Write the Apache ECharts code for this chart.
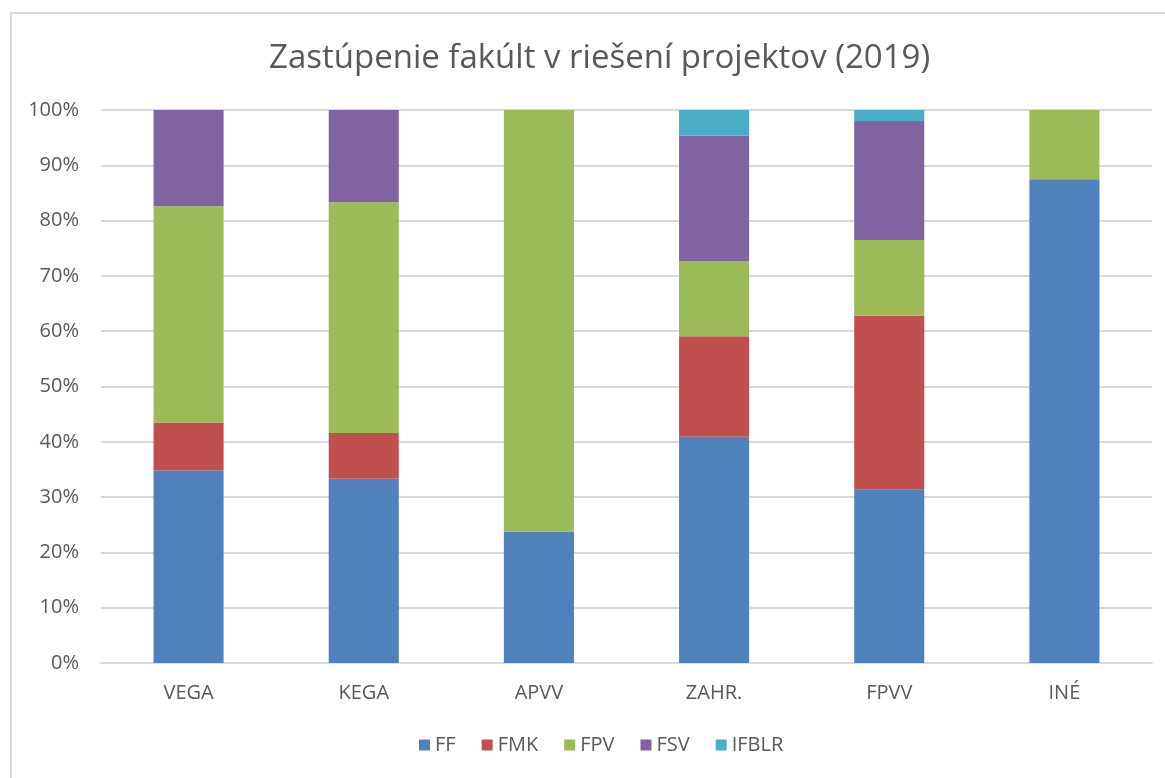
<!DOCTYPE html>
<html>
<head>
<meta charset="utf-8">
<script src="https://cdn.jsdelivr.net/npm/echarts@6/dist/echarts.min.js"></script>
<style>
  html, body { margin: 0; padding: 0; background: #fff; overflow: hidden; }
  #frame {
    position: absolute; left: 10px; top: 12px; width: 1200px; height: 800px;
    border-left: 2px solid #d9d9d9; border-top: 2px solid #d9d9d9;
  }
  #chart { position: absolute; left: 0; top: 0; width: 1165px; height: 778px; }
</style>
</head>
<body>
<div id="frame"></div>
<div id="chart"></div>
<script>
// kategórie a podiely fakúlt (%)
const categories = ['VEGA', 'KEGA', 'APVV', 'ZAHR.', 'FPVV', 'INÉ'];
const ffData    = [34.8, 33.3, 23.8, 40.9, 31.4, 87.5];
const fmkData   = [8.7, 8.3, 0, 18.2, 31.4, 0];
const fpvData   = [39.1, 41.7, 76.2, 13.6, 13.7, 12.5];
const fsvData   = [17.4, 16.7, 0, 22.7, 21.5, 0];
const ifblrData = [0, 0, 0, 4.6, 2.0, 0];

const seriesNames = ['FF', 'FMK', 'FPV', 'FSV', 'IFBLR'];
const seriesData = [ffData, fmkData, fpvData, fsvData, ifblrData];
const colors = ['#4f81bd', '#c0504d', '#9bbb59', '#8064a2', '#4bacc6'];

const font = 'Open Sans, sans-serif';
const chart = echarts.init(document.getElementById('chart'));

const options = {
  animation: false,
  color: colors,
  title: {
    text: 'Zastúpenie fakúlt v riešení projektov (2019)',
    left: 264,
    top: 37,
    textStyle: {
      fontFamily: font,
      fontSize: 33,
      fontWeight: 'normal',
      color: '#595959'
    }
  },
  legend: {
    bottom: 18,
    left: 414,
    itemWidth: 11,
    itemHeight: 11,
    itemGap: 26,
    icon: 'rect',
    textStyle: {
      fontFamily: font,
      fontSize: 20,
      color: '#595959'
    },
    data: seriesNames
  },
  grid: {
    left: 101,
    right: 13,
    top: 110,
    bottom: 115
  },
  xAxis: {
    type: 'category',
    data: categories,
    axisTick: { show: false },
    axisLine: { lineStyle: { color: '#d9d9d9', width: 2 } },
    axisLabel: {
      margin: 20,
      fontFamily: font,
      fontSize: 20,
      color: '#595959'
    }
  },
  yAxis: {
    type: 'value',
    min: 0,
    max: 100,
    interval: 10,
    axisLabel: {
      formatter: '{value}%',
      margin: 22,
      fontFamily: font,
      fontSize: 20,
      color: '#595959'
    },
    axisLine: { show: false },
    axisTick: { show: false },
    splitLine: { lineStyle: { color: '#d9d9d9', width: 2 } }
  },
  series: seriesNames.map((name, i) => ({
    name: name,
    type: 'bar',
    stack: 'total',
    barWidth: '40%',
    data: seriesData[i]
  }))
};

chart.setOption(options);
</script>
</body>
</html>
